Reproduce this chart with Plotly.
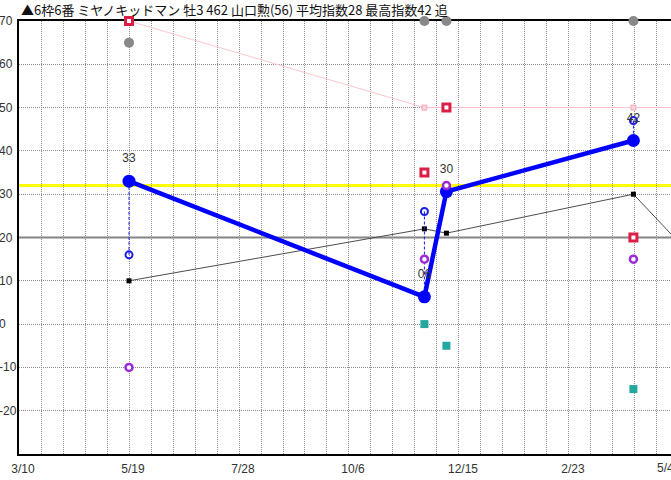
import plotly.graph_objects as go

# ---- data ----
race_dates = ["2022-05-19", "2022-11-23", "2022-12-07", "2023-04-05", "2023-05-01"]
index_main = [33, 6.3, 30.6, 42.4, None]          # thick blue line
index_labels = ["33", "06", "30", "42", ""]
index_small = [16, 26, None, 47, 37]               # small blue rings
gray_line = [10, 22, 21, 30, 20]                   # thin gray line, black squares
pink_line = [70, 50, None, 50, 50]                 # light pink line
red_sq = [70, 35, 50, 20, 34]                      # red hollow squares
gray_dot = [65, 70, 70, 70, None]                  # gray filled circles
purple_ring = [-10, 15, 32, 15, 32]                # purple rings
teal_sq = [None, 0, -5, -15, None]                 # teal squares
avg_level = 32                                     # yellow horizontal line
ref_level = 20                                     # solid gray horizontal line

y_ticks = [70, 60, 50, 40, 30, 20, 10, 0, -10, -20]
x_start = "2022-03-10"
x_end = "2023-04-28 22:00"
title_text = "▲6枠6番 ミヤノキッドマン 牡3 462 山口勲(56) 平均指数28 最高指数42 追"
last_tick_label = "5/4"

DAY = 86400000
W, H = 671, 480
ML, MT, MB = 19, 21, 26
GRID = "#8c8c8c"
LABEL_FONT = dict(family="Liberation Sans, Arial, sans-serif", size=12, color="#333333")

fig = go.Figure()

# pink line
fig.add_trace(go.Scatter(
    x=race_dates, y=pink_line, mode="lines+markers", connectgaps=True,
    line=dict(color="#FBC6D0", width=1),
    marker=dict(symbol="square", size=5, color="#FAD4DC", line=dict(color="#F2A9B8", width=1)),
    cliponaxis=False, hoverinfo="skip", showlegend=False))

# thin gray line
fig.add_trace(go.Scatter(
    x=race_dates, y=gray_line, mode="lines+markers",
    line=dict(color="#4d4d4d", width=1),
    marker=dict(symbol="square", size=5, color="#000000"),
    cliponaxis=True, hoverinfo="skip", showlegend=False))

# dashed blue connectors between small ring and main index
cx, cy = [], []
for d, a, b in zip(race_dates, index_small, index_main):
    if a is not None and b is not None:
        cx += [d, d, None]
        cy += [a, b, None]
fig.add_trace(go.Scatter(
    x=cx, y=cy, mode="lines", line=dict(color="#1A1AE6", width=1, dash="3px,2px"),
    hoverinfo="skip", showlegend=False))

# thick blue index line
fig.add_trace(go.Scatter(
    x=race_dates, y=index_main, mode="lines+markers",
    line=dict(color="#0000FF", width=4.5),
    marker=dict(symbol="circle", size=13, color="#0000FF"),
    cliponaxis=False, hoverinfo="skip", showlegend=False))

# gray filled circles
fig.add_trace(go.Scatter(
    x=race_dates, y=gray_dot, mode="markers",
    marker=dict(symbol="circle", size=10, color="#888888"),
    cliponaxis=False, hoverinfo="skip", showlegend=False))

# red hollow squares
fig.add_trace(go.Scatter(
    x=race_dates, y=red_sq, mode="markers",
    marker=dict(symbol="square", size=7, color="#FFFFFF", line=dict(color="#DC1E46", width=3)),
    cliponaxis=False, hoverinfo="skip", showlegend=False))

# purple rings
fig.add_trace(go.Scatter(
    x=race_dates, y=purple_ring, mode="markers",
    marker=dict(symbol="circle", size=7, color="#FFFFFF", line=dict(color="#9A2BD6", width=2.5)),
    cliponaxis=False, hoverinfo="skip", showlegend=False))

# teal squares
fig.add_trace(go.Scatter(
    x=race_dates, y=teal_sq, mode="markers",
    marker=dict(symbol="square", size=8, color="#22A89E"),
    cliponaxis=False, hoverinfo="skip", showlegend=False))

# small blue rings
fig.add_trace(go.Scatter(
    x=race_dates, y=index_small, mode="markers",
    marker=dict(symbol="circle-open", size=7, color="#1A1AE6", line=dict(width=2)),
    cliponaxis=False, hoverinfo="skip", showlegend=False))

# labels above main index points
fig.add_trace(go.Scatter(
    x=race_dates, y=index_main, mode="markers+text", text=index_labels,
    textposition="top center", textfont=LABEL_FONT,
    marker=dict(size=24, color="rgba(0,0,0,0)"),
    cliponaxis=False, hoverinfo="skip", showlegend=False))

# horizontal reference lines
fig.add_shape(type="line", xref="paper", x0=0, x1=1, yref="y", y0=ref_level, y1=ref_level,
              line=dict(color="#808080", width=2), layer="below")
fig.add_shape(type="line", xref="paper", x0=0, x1=1, yref="y", y0=avg_level, y1=avg_level,
              line=dict(color="#FFFF00", width=3), layer="below")

# y tick labels (left aligned, partially cut at the page edge)
for v in y_ticks:
    fig.add_annotation(xref="paper", x=0, xanchor="left", xshift=-(ML + 3),
                       yref="y", y=v, yanchor="middle", text=str(v), showarrow=False,
                       font=LABEL_FONT)

# last (partially visible) x tick label
fig.add_annotation(xref="paper", x=(655 - ML) / (W - ML), xanchor="left",
                   yref="paper", y=0, yanchor="top", yshift=-5, text=last_tick_label,
                   showarrow=False, font=LABEL_FONT)

fig.update_layout(
    width=W, height=H,
    margin=dict(l=ML, r=0, t=MT, b=MB, pad=0),
    paper_bgcolor="white", plot_bgcolor="white",
    title=dict(text=title_text, x=21 / W, xanchor="left", xref="container",
               y=1 - 10.5 / H, yanchor="middle", yref="container",
               font=dict(family="Noto Sans CJK JP", size=13, color="#111111")),
    font=LABEL_FONT,
    xaxis=dict(
        type="date", range=[x_start, x_end],
        tick0=x_start, dtick=70 * DAY, tickformat="%-m/%-d",
        showgrid=True, gridcolor=GRID, griddash="1px,1px", gridwidth=1,
        minor=dict(tick0=x_start, dtick=14 * DAY, showgrid=True,
                   gridcolor=GRID, griddash="1px,1px", gridwidth=1),
        showline=True, linecolor="#000000", linewidth=2, mirror=True,
        ticks="", ticklabelstandoff=3, ticklabelshift=4,
        tickfont=LABEL_FONT, zeroline=False, layer="below traces",
    ),
    yaxis=dict(
        range=[-30, 70], dtick=10, tick0=0,
        showgrid=True, gridcolor=GRID, griddash="1px,1px", gridwidth=1,
        showline=True, linecolor="#000000", linewidth=2, mirror=False,
        showticklabels=False, ticks="", zeroline=False, layer="below traces",
    ),
)

fig.write_html("out.html", config={"displayModeBar": False},
               post_script="document.body.style.margin='0';document.body.style.overflow='hidden';")
